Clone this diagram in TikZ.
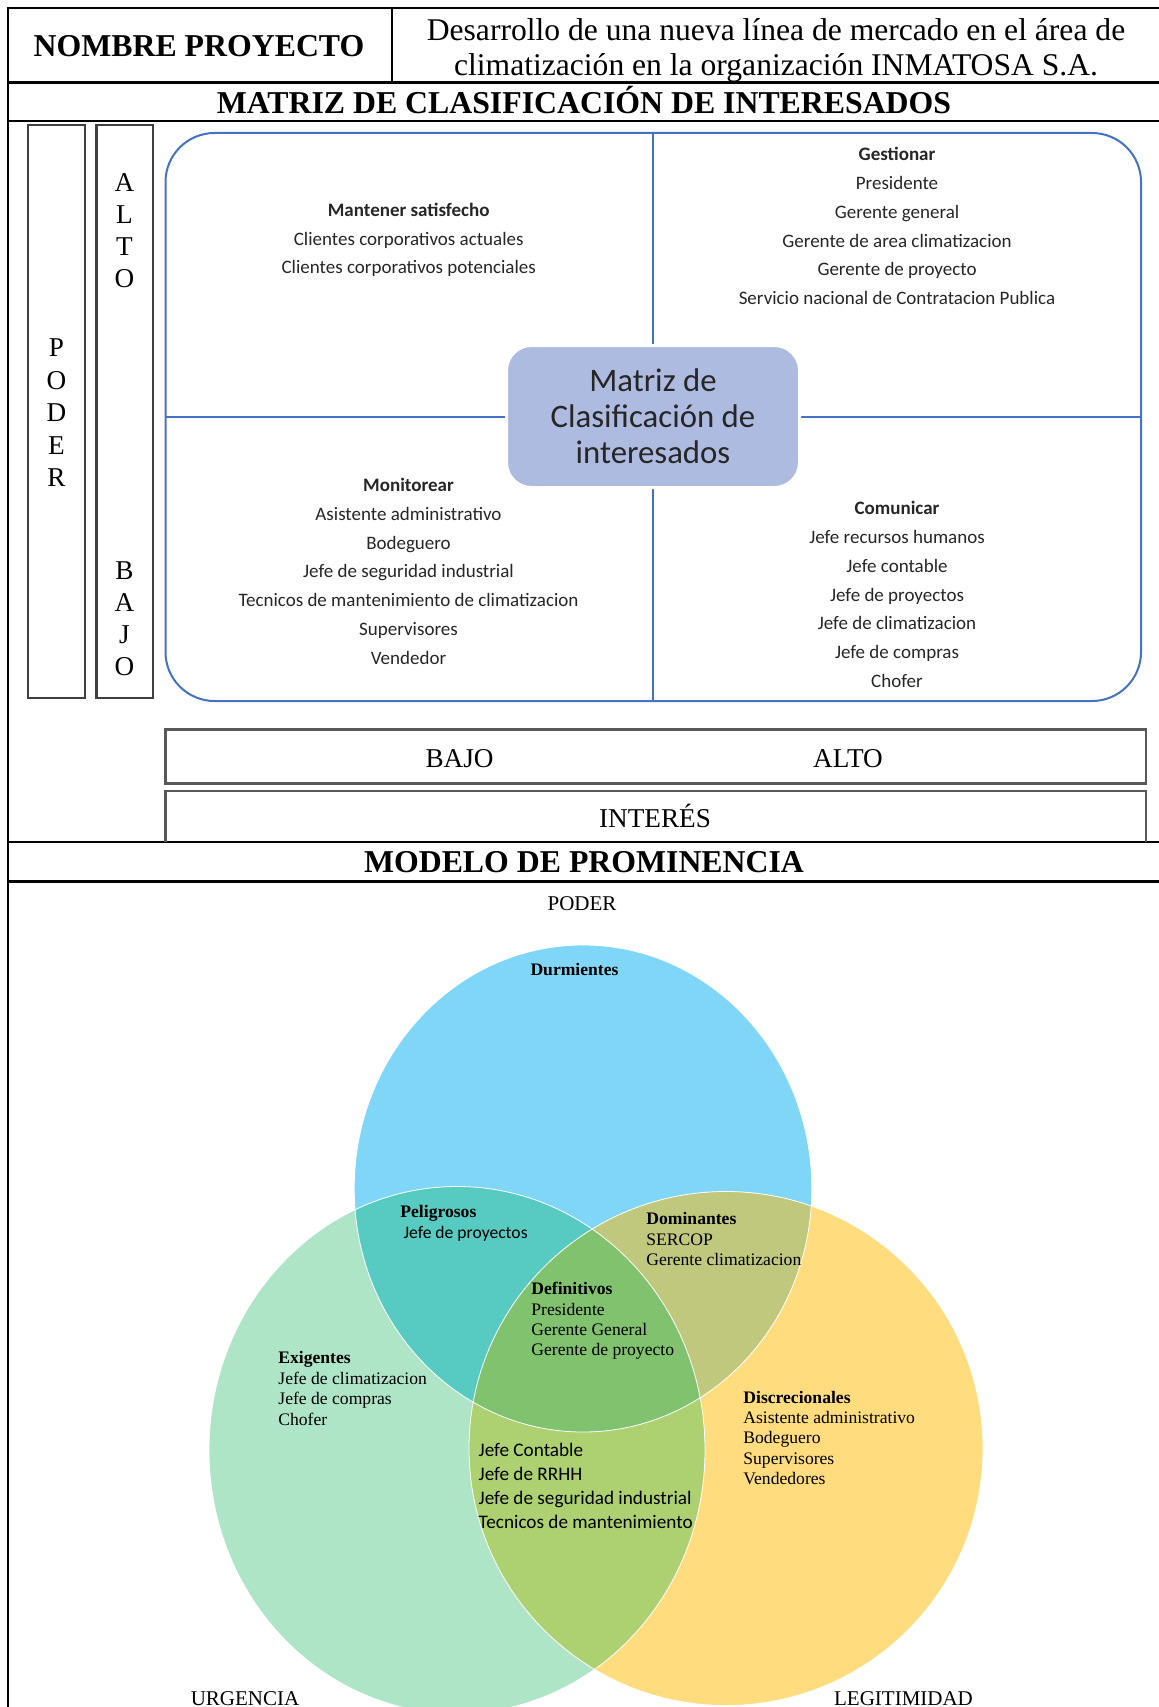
\documentclass[tikz,border=0pt]{standalone}
\usepackage{fontspec}
\setmainfont{Liberation Serif}
\newfontfamily\calibri{Carlito}
\definecolor{marcoazul}{RGB}{68,114,196}
\definecolor{cajaazul}{RGB}{174,187,224}
\definecolor{cpoder}{RGB}{128,214,247}
\definecolor{curgencia}{RGB}{174,229,199}
\definecolor{clegit}{RGB}{255,220,126}
\definecolor{cpu}{RGB}{87,203,193}
\definecolor{cpl}{RGB}{191,200,124}
\definecolor{cul}{RGB}{173,208,113}
\definecolor{cpul}{RGB}{128,194,110}
\tikzset{
  tabla/.style={line width=1.2pt},
  lateral/.style={draw=black!75,line width=1.1pt},
  eje/.style={draw=black!65,line width=1.3pt},
  titulo/.style={font=\bfseries\fontsize{15.9}{18}\selectfont},
  letra/.style={font=\fontsize{13.6}{16}\selectfont,inner sep=0},
  cuadro/.style={align=center,text=black!85,font=\calibri\fontsize{9.5}{14.4}\selectfont},
  venn/.style={align=left,anchor=west,inner sep=0,font=\fontsize{8.8}{10.2}\selectfont},
  etiqueta/.style={font=\fontsize{10.5}{12}\selectfont}
}
\begin{document}
\begin{tikzpicture}[x=0.5pt,y=-0.5pt]
\useasboundingbox (0,0) rectangle (1159,1707);
% tabla
\draw[tabla] (1159,8) -- (8,8) -- (8,1707);
\draw[tabla] (392,8) -- (392,82.5);
\draw[tabla] (8,82.5) -- (1159,82.5);
\draw[tabla] (8,121) -- (1159,121);
\draw[tabla] (8,842) -- (1159,842);
\draw[tabla] (8,881.5) -- (1159,881.5);
\node[titulo] (nombre) at (199,45.7) {NOMBRE PROYECTO};
\node[align=center,font=\fontsize{15.8}{17.5}\selectfont] (proyecto) at (776,50)
  {Desarrollo de una nueva línea de mercado en el área de\\climatización en la organización INMATOSA S.A.};
\node[titulo] (matriz) at (584,100) {MATRIZ DE CLASIFICACIÓN DE INTERESADOS};
\node[titulo] (modelo) at (584,862) {MODELO DE PROMINENCIA};

% poder alto bajo
\draw[lateral] (28,125) rectangle (85,698);
\draw[lateral] (96.5,125) rectangle (153,698);
\foreach \l [count=\i] in {P,O,D,E,R}
  \node[letra] (poder\i) at (56.5,315.5+32.5*\i) {\l};
\foreach \l [count=\i] in {A,L,T,O}
  \node[letra] (alto\i) at (124.5,151+32*\i) {\l};
\foreach \l [count=\i] in {B,A,J,O}
  \node[letra] (bajo\i) at (124.5,538+32.2*\i) {\l};

% matriz
\draw[marcoazul,line width=1pt,rounded corners=24.5pt] (165.5,133) rectangle (1141,701);
\draw[marcoazul,line width=1pt] (653,133) -- (653,701);
\draw[marcoazul,line width=1pt] (165.5,417) -- (1141,417);
\node[draw=white,line width=1.5pt,fill=cajaazul,rounded corners=12.5pt,
  minimum width=146.5pt,minimum height=71pt,inner sep=0,align=center,
  text=black!85,font=\calibri\fontsize{16.4}{18}\selectfont] (mcentro) at (653,416.5)
  {Matriz de\\Clasificación de\\interesados};
\node[cuadro] (satisfecho) at (408.7,240)
  {\textbf{Mantener satisfecho}\\Clientes corporativos actuales\\Clientes corporativos potenciales};
\node[cuadro] (gestionar) at (897,226)
  {\textbf{Gestionar}\\Presidente\\Gerente general\\Gerente de area climatizacion\\Gerente de proyecto\\Servicio nacional de Contratacion Publica};
\node[cuadro] (monitorear) at (408.5,571.3)
  {\textbf{Monitorear}\\Asistente administrativo\\Bodeguero\\Jefe de seguridad industrial\\Tecnicos de mantenimiento de climatizacion\\Supervisores\\Vendedor};
\node[cuadro] (comunicar) at (897,594.5)
  {\textbf{Comunicar}\\Jefe recursos humanos\\Jefe contable\\Jefe de proyectos\\Jefe de climatizacion\\Jefe de compras\\Chofer};

% interes
\draw[eje] (165.5,729.5) rectangle (1146,783.5);
\draw[eje] (165.5,842) -- (165.5,791) -- (1146,791) -- (1146,842);
\node[letra] (bajo) at (459.5,758.5) {BAJO};
\node[letra] (alto) at (848,758.5) {ALTO};
\node[letra] (interes) at (655,816) {INTERÉS};

% modelo de prominencia
\coordinate (cpod) at (583,1188.5);
\coordinate (curg) at (457,1450);
\coordinate (cleg) at (726,1448.5);
\fill[cpoder] (cpod) ellipse [x radius=228.8,y radius=243.5];
\fill[curgencia] (curg) ellipse [x radius=248,y radius=263.5];
\fill[clegit] (cleg) circle [radius=257];
\begin{scope}
  \clip (curg) ellipse [x radius=248,y radius=263.5];
  \fill[cul] (cleg) circle [radius=257];
\end{scope}
\begin{scope}
  \clip (cpod) ellipse [x radius=228.8,y radius=243.5];
  \fill[cpu] (curg) ellipse [x radius=248,y radius=263.5];
  \fill[cpl] (cleg) circle [radius=257];
  \clip (curg) ellipse [x radius=248,y radius=263.5];
  \fill[cpul] (cleg) circle [radius=257];
\end{scope}
\draw[white,line width=0.4pt] (cpod) ellipse [x radius=228.8,y radius=243.5];
\draw[white,line width=0.4pt] (curg) ellipse [x radius=248,y radius=263.5];
\draw[white,line width=0.4pt] (cleg) circle [radius=257];

\node[venn,anchor=center] (durmientes) at (574.5,969.3) {\textbf{Durmientes}};
\node[venn] (peligrosos) at (400,1223.4)
  {\textbf{Peligrosos}\\{\calibri\hspace*{1.6pt}Jefe de proyectos}};
\node[venn] (dominantes) at (646,1239) {\textbf{Dominantes}\\SERCOP\\Gerente climatizacion};
\node[venn] (definitivos) at (531,1321)
  {\textbf{Definitivos}\\Presidente\\Gerente General\\Gerente de proyecto};
\node[venn] (exigentes) at (278,1388.5)
  {\textbf{Exigentes}\\Jefe de climatizacion\\Jefe de compras\\Chofer};
\node[venn] (discrecionales) at (743,1438)
  {\textbf{Discrecionales}\\Asistente administrativo\\Bodeguero\\Supervisores\\Vendedores};
\node[venn,font=\calibri\fontsize{9.6}{12}\selectfont] (contable) at (478.3,1486)
  {Jefe Contable\\Jefe de RRHH\\Jefe de seguridad industrial\\Tecnicos de mantenimiento};

\node[etiqueta] (lpoder) at (582,904) {PODER};
\node[etiqueta] (lurgencia) at (245,1698.5) {URGENCIA};
\node[etiqueta] (llegitimidad) at (903.5,1698.5) {LEGITIMIDAD};
\end{tikzpicture}
\end{document}
